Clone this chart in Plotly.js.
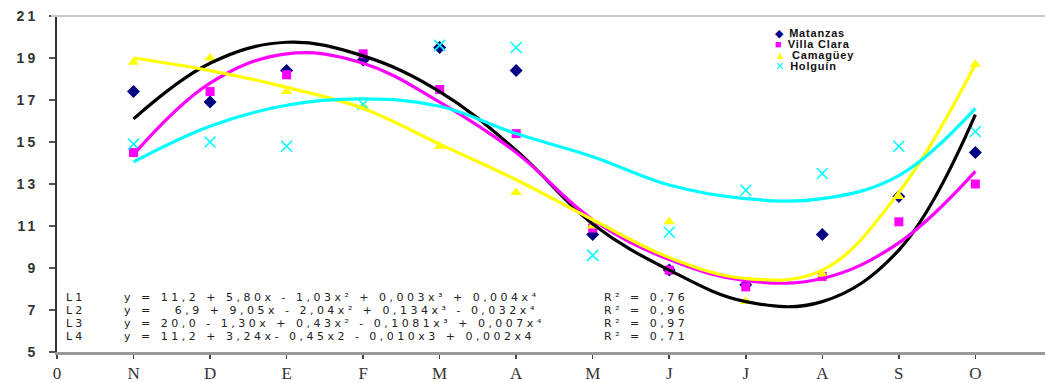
<!DOCTYPE html>
<html>
<head>
<meta charset="utf-8">
<script src="https://cdn.plot.ly/plotly-3.0.1.min.js"></script>
<style>
  html, body { margin: 0; padding: 0; background: #fff; }
  #chart { width: 1045px; height: 383px; }
</style>
</head>
<body>
<div id="chart"></div>
<script>
// ---- data ----
const monthPos = [1, 2, 3, 4, 5, 6, 7, 8, 9, 10, 11, 12];
const tickPos = [0, 1, 2, 3, 4, 5, 6, 7, 8, 9, 10, 11, 12];
const tickLabels = ['0', 'N', 'D', 'E', 'F', 'M', 'A', 'M', 'J', 'J', 'A', 'S', 'O'];
const yTicks = [5, 7, 9, 11, 13, 15, 17, 19, 21];

const seriesNames = ['Matanzas', 'Villa Clara', 'Camagüey', 'Holguín'];

const matanzas   = [17.4, 16.9, 18.4, 18.9, 19.5, 18.4, 10.6, 8.9, 8.2, 10.6, 12.4, 14.5];
const villaClara = [14.5, 17.4, 18.2, 19.2, 17.5, 15.4, 10.9, 8.9, 8.1, 8.6, 11.2, 13.0];
const camaguey   = [18.8, 19.0, 17.4, 16.7, 14.8, 12.6, 11.0, 11.2, 7.4, 8.7, 12.4, 18.7];
const holguin    = [14.9, 15.0, 14.8, 16.8, 19.6, 19.5, 9.6, 10.7, 12.7, 13.5, 14.8, 15.5];

// trend curves (polynomial fits as drawn in the reference, read at each month)
const trendMatanzas   = [16.1, 18.75, 19.75, 19.1, 17.4, 14.6, 11.1, 8.9, 7.4, 7.4, 9.85, 16.3];
const trendVillaClara = [14.4, 17.8, 19.2, 18.75, 16.9, 14.5, 11.3, 9.4, 8.4, 8.5, 10.2, 13.6];
const trendCamaguey   = [19.0, 18.4, 17.6, 16.6, 14.9, 13.2, 11.3, 9.5, 8.5, 8.9, 12.6, 18.7];
const trendHolguin    = [14.05, 15.75, 16.75, 17.05, 16.7, 15.4, 14.3, 12.95, 12.3, 12.3, 13.4, 16.6];

const eqLabels = ['L1', 'L2', 'L3', 'L4'];
const equations = [
  'y = 11,2 + 5,80x - 1,03x² + 0,003x³ + 0,004x⁴',
  'y =   6,9 + 9,05x - 2,04x² + 0,134x³ - 0,032x⁴',
  'y = 20,0 - 1,30x + 0,43x² - 0,1081x³ + 0,007x⁴',
  'y = 11,2 + 3,24x- 0,45x2 - 0,010x3 + 0,002x4'
];
const r2Values = ['R² = 0,76', 'R² = 0,96', 'R² = 0,97', 'R² = 0,71'];

// ---- styles ----
const colors = ['#000080', '#ff00ff', '#ffff00', '#00ffff'];
const trendColors = ['#000000', '#ff00ff', '#ffff00', '#00ffff'];
const symbols = ['diamond', 'square', 'triangle-up', 'x-thin-open'];
const legendGlyphs = ['◆', '■', '▲', '✕'];
const pointData = [matanzas, villaClara, camaguey, holguin];
const trendData = [trendMatanzas, trendVillaClara, trendCamaguey, trendHolguin];

const traces = [];
pointData.forEach((vals, i) => {
  traces.push({
    type: 'scatter', mode: 'markers', x: monthPos, y: vals, name: seriesNames[i],
    marker: {
      symbol: symbols[i], color: colors[i],
      size: i === 3 ? 11 : (i === 1 ? 9 : 10),
      line: i === 3 ? {color: colors[i], width: 1.6} : {width: 0}
    },
    showlegend: false, hoverinfo: 'x+y'
  });
});
trendData.forEach((vals, i) => {
  traces.push({
    type: 'scatter', mode: 'lines', x: monthPos, y: vals, name: 'L' + (i + 1),
    line: {color: trendColors[i], width: 3.2, shape: 'spline', smoothing: 1.1},
    showlegend: false, hoverinfo: 'skip'
  });
});

// equation block: one annotation per column, four tight lines each
const block = (arr, spacing) => arr.map(s =>
  '<span style="font-size:11px;letter-spacing:' + spacing + 'px">' + s + '</span>').join('<br>');
const eqFont = {family: 'DejaVu Sans, Arial, sans-serif', size: 10, color: '#222'};
const eqCenterY = 6.68;
const annotations = [
  {x: 0.1, y: eqCenterY, xref: 'x', yref: 'y', xanchor: 'left', yanchor: 'middle', align: 'left',
   text: block(eqLabels, 3), showarrow: false, font: eqFont, borderpad: 0},
  {x: 0.86, y: eqCenterY, xref: 'x', yref: 'y', xanchor: 'left', yanchor: 'middle', align: 'left',
   text: block(equations, 3.5), showarrow: false, font: eqFont, borderpad: 0},
  {x: 7.13, y: eqCenterY, xref: 'x', yref: 'y', xanchor: 'left', yanchor: 'middle', align: 'left',
   text: block(r2Values, 3.5), showarrow: false, font: eqFont, borderpad: 0}
];
const legY = [0.949, 0.916, 0.883, 0.850];
seriesNames.forEach((nm, i) => {
  annotations.push({x: 0.726, y: legY[i], xref: 'paper', yref: 'paper', xanchor: 'left', yanchor: 'middle',
    text: '<span style="color:' + colors[i] + '">' + legendGlyphs[i] + '</span>&nbsp; <b><span style="letter-spacing:0.8px">' + nm + '</span></b>',
    showarrow: false, font: {family: 'Liberation Sans, Arial, sans-serif', size: 11, color: '#111'}, borderpad: 0});
});

const layout = {
  width: 1045, height: 383,
  margin: {l: 57, r: 0, t: 16, b: 31, pad: 0},
  paper_bgcolor: '#fff', plot_bgcolor: '#fff',
  showlegend: false,
  xaxis: {
    range: [0, 12.91], tickmode: 'array', tickvals: tickPos, ticktext: tickLabels,
    showgrid: false, zeroline: false, showline: true, linecolor: '#999', linewidth: 3,
    ticks: 'outside', ticklen: 4, tickwidth: 1.5, tickcolor: '#444',
    tickfont: {family: 'Liberation Serif, Times New Roman, serif', size: 17, color: '#333'}
  },
  yaxis: {
    range: [5, 21], tickmode: 'array', tickvals: yTicks,
    ticktext: yTicks.map(v => '<span style="letter-spacing:3px">' + v + '</span>'),
    showgrid: false, zeroline: false, showline: true, linecolor: '#333', linewidth: 2,
    ticks: 'outside', ticklen: 6, tickwidth: 1.5, tickcolor: '#555',
    ticklabelstandoff: 8,
    tickfont: {family: 'Liberation Sans, Arial, sans-serif', size: 14, color: '#333', weight: 'bold'}
  },
  shapes: [{type: 'line', xref: 'paper', yref: 'paper', x0: -0.006, x1: 1, y0: 1, y1: 1,
            line: {color: '#c8c8c8', width: 2}}],
  annotations: annotations
};

Plotly.newPlot('chart', traces, layout, {displayModeBar: false, staticPlot: true});
</script>
</body>
</html>
